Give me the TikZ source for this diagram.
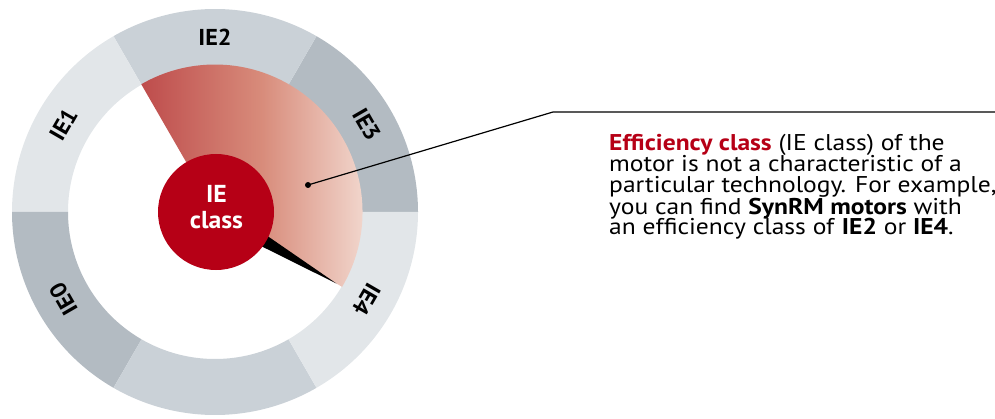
\documentclass[tikz,border=0pt]{standalone}
\usepackage{fontspec}
\setmainfont{PT Sans}[FakeStretch=1.05]
\newfontfamily\bodyfont{PT Sans}[FakeStretch=1.12]
\usetikzlibrary{calc}
\definecolor{seglight}{RGB}{226,230,233}
\definecolor{segmid}{RGB}{202,209,215}
\definecolor{segdark}{RGB}{179,187,194}
\definecolor{abbred}{RGB}{182,0,22}
\definecolor{wedgeL}{RGB}{190,76,76}
\definecolor{wedgeM}{RGB}{216,140,123}
\definecolor{wedgeR}{RGB}{246,228,220}
\tikzset{
  seglabel/.style={font=\fontsize{23}{23}\selectfont\bfseries, text=black, inner sep=0pt},
  bodytext/.style={font=\bodyfont\fontsize{22.8}{21}\selectfont, anchor=base west, inner sep=0pt},
  hubtext/.style={font=\fontsize{24.5}{26}\selectfont\bfseries, text=white, anchor=base, inner sep=0pt},
  leader/.style={line width=1.2pt, black},
}
\newcommand{\ringseg}[2]{%
  \fill[#2] (#1:203) arc[start angle=#1, end angle=#1+60, radius=203]
    -- ({#1+60}:147) arc[start angle=#1+60, end angle=#1, radius=147] -- cycle;}
\begin{document}
\begin{tikzpicture}[x=1pt,y=1pt]
\useasboundingbox (0,0) rectangle (995,418);
\begin{scope}[shift={(215,206)}]
  \ringseg{0}{segdark}
  \ringseg{60}{segmid}
  \ringseg{120}{seglight}
  \ringseg{180}{segdark}
  \ringseg{240}{segmid}
  \ringseg{300}{seglight}
  % wedge
  \shade[left color=wedgeL, right color=wedgeR, middle color=wedgeM]
    (0,0) -- (-30.5:147.5) arc[start angle=-30.5, end angle=120, radius=147.5] -- cycle;
  % needle
  \fill[black] (-30.5:141) -- (59.5:10) -- (-120.5:10) -- cycle;
  % labels
  \node[seglabel, rotate=0]    (ie2) at (90:175)  {IE2};
  \node[seglabel, rotate=-60]  (ie3) at (30:175)  {IE3};
  \node[seglabel, rotate=-120] (ie4) at (-30:175) {IE4};
  \node[seglabel, rotate=120]  (ie0) at (210:175) {IE0};
  \node[seglabel, rotate=60]   (ie1) at (150:175) {IE1};
  % center
  \node[circle, fill=abbred, minimum size=116pt, inner sep=0pt] (hub) at (1,0) {};
  \node[hubtext] (hubie) at (1.5,9.7) {IE};
  \node[hubtext] (hubcl) at (1.5,-16.3) {class};
  \coordinate (dot) at (93,27);
\end{scope}
\coordinate (bend) at (553,306);
\coordinate (lend) at (995,306);
\draw[leader] (dot) -- (bend) -- (lend);
\fill (dot) circle[radius=3pt];
\node[bodytext] (l1) at (609,267) {\textbf{\textcolor{abbred}{Efficiency class}} (IE class) of the};
\node[bodytext] (l2) at (609,246) {motor is not a characteristic of a};
\node[bodytext] (l3) at (609,225) {particular technology. For example,};
\node[bodytext] (l4) at (609,204) {you can find \textbf{SynRM motors} with};
\node[bodytext] (l5) at (609,183) {an efficiency class of \textbf{IE2} or \textbf{IE4}.};
\end{tikzpicture}
\end{document}
